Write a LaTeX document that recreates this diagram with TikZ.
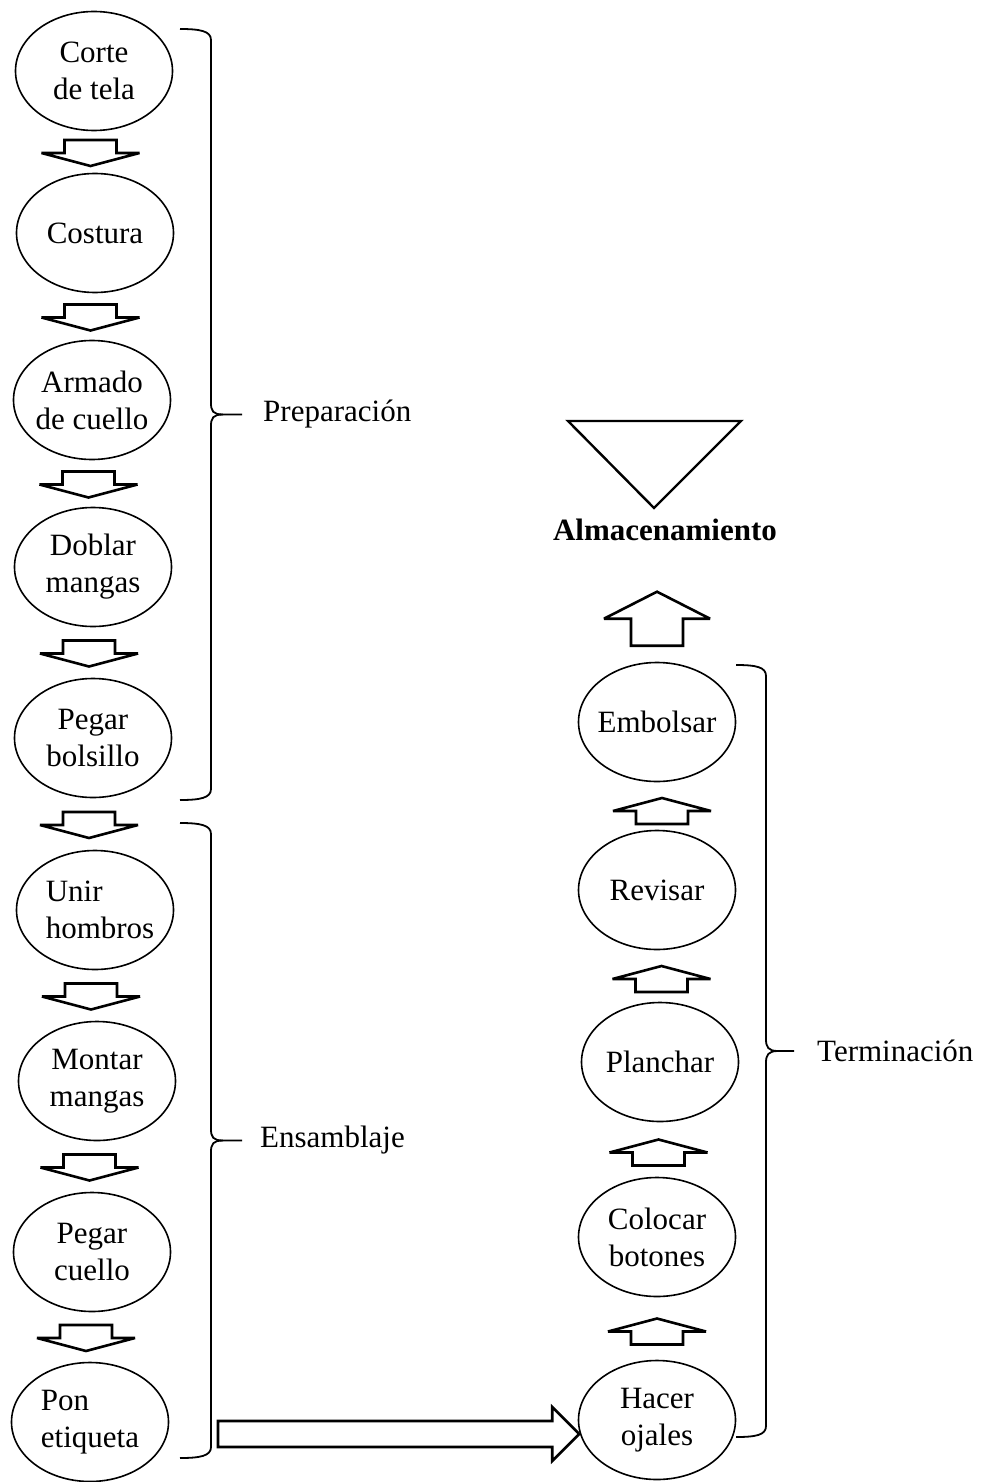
\documentclass[tikz,border=0pt]{standalone}
\usepackage{fontspec}
\setmainfont{Liberation Serif}
\usetikzlibrary{shapes.geometric,calc}
\tikzset{
 proc/.style={ellipse, draw, line width=1.6pt, minimum width=157pt, minimum height=119pt, inner sep=-30pt, align=center, font=\fontsize{31}{37}\selectfont},
 lbl/.style={anchor=west, inner sep=0pt, font=\fontsize{31}{37}\selectfont},
 blk/.style={draw, line width=2.6pt, fill=white, line join=miter, miter limit=3},
 brc/.style={draw, line width=1.8pt},
 downarr/.pic={\path[blk] (-26,-13) -- (26,-13) -- (26,0) -- (49,0) -- (0,13) -- (-49,0) -- (-26,0) -- cycle;},
 uparr/.pic={\path[blk] (-26,13) -- (26,13) -- (26,0) -- (49,0) -- (0,-13) -- (-49,0) -- (-26,0) -- cycle;},
 bigup/.pic={\path[blk] (-26,27) -- (26,27) -- (26,0) -- (53,0) -- (0,-27) -- (-53,0) -- (-26,0) -- cycle;},
}
\begin{document}
\begin{tikzpicture}[x=1pt,y=-1pt]
\useasboundingbox (0,0) rectangle (990,1482);
% left column
\node[proc] (c1) at (94,71) {Corte\\de tela};
\node[proc] (c2) at (95,233) {Costura};
\node[proc] (c3) at (92,400) {Armado\\de cuello};
\node[proc] (c4) at (93,567) {Doblar\\mangas};
\node[proc] (c5) at (93,738) {Pegar\\bolsillo};
\node[proc,align=left] (c6) at (95,910) {\hspace*{10pt}Unir\\\hspace*{10pt}hombros};
\node[proc] (c7) at (97,1081) {Montar\\mangas};
\node[proc] (c8) at (92,1252) {Pegar\\cuello};
\node[proc,align=left] (c9) at (90,1422) {Pon\\etiqueta};
% right column
\node[proc] (r1) at (657,722) {Embolsar};
\node[proc] (r2) at (657,890) {Revisar};
\node[proc] (r3) at (660,1062) {Planchar};
\node[proc] (r4) at (657,1237) {Colocar\\botones};
\node[proc] (r5) at (657,1420) {Hacer\\ojales};
% storage
\node[font=\fontsize{31}{37}\selectfont\bfseries, inner sep=0pt] (alm) at (665,530) {Almacenamiento};
\draw[line width=2.4pt, line join=miter] (568,421) -- (741,421) -- (654,508) -- cycle;
% down arrows
\pic at ($(c1.south)!0.5!(c2.north)+(-4,1)$) {downarr};
\pic at ($(c2.south)!0.5!(c3.north)+(-3,1)$) {downarr};
\pic at ($(c3.south)!0.5!(c4.north)+(-4,1)$) {downarr};
\pic at ($(c4.south)!0.5!(c5.north)+(-4,1)$) {downarr};
\pic at ($(c5.south)!0.5!(c6.north)+(-5,1)$) {downarr};
\pic at ($(c6.south)!0.5!(c7.north)+(-5,1)$) {downarr};
\pic at ($(c7.south)!0.5!(c8.north)+(-5,1)$) {downarr};
\pic at ($(c8.south)!0.5!(c9.north)+(-5,1)$) {downarr};
% up arrows
\pic at ($(r1.south)!0.5!(r2.north)+(5,5)$) {uparr};
\pic at ($(r2.south)!0.5!(r3.north)+(3,3)$) {uparr};
\pic at ($(r3.south)!0.5!(r4.north)+(0,3)$) {uparr};
\pic at ($(r4.south)!0.5!(r5.north)+(0,3)$) {uparr};
\pic at ($(r1.north)+(0,-43)$) {bigup};
% long arrow
\coordinate (rtip) at ($(r5.west)+(1.5,14)$);
\coordinate (rtail) at (218,1434);
\path[blk] ($(rtail)+(0,-13)$) -- ($(rtip)+(-27,-13)$) -- ($(rtip)+(-27,-27)$) -- (rtip) -- ($(rtip)+(-27,27)$) -- ($(rtip)+(-27,13)$) -- ($(rtail)+(0,13)$) -- cycle;
% braces
\draw[brc] (180,29) .. controls (200,29) and (211,31) .. (211,40) -- (211,403) .. controls (211,411) and (213,414.5) .. (223,414.5) -- (242,414.5);
\draw[brc] (223,414.5) .. controls (213,414.5) and (211,418) .. (211,426) -- (211,789) .. controls (211,798) and (200,800) .. (180,800);
\draw[brc] (180,823) .. controls (200,823) and (211,825) .. (211,834) -- (211,1129) .. controls (211,1137) and (213,1140.5) .. (223,1140.5) -- (242,1140.5);
\draw[brc] (223,1140.5) .. controls (213,1140.5) and (211,1144) .. (211,1152) -- (211,1447) .. controls (211,1456) and (200,1458) .. (180,1458);
\draw[brc] (736,665) .. controls (756,665) and (766,667) .. (766,676) -- (766,1039) .. controls (766,1047) and (768,1051) .. (778,1051) -- (794,1051);
\draw[brc] (778,1051) .. controls (768,1051) and (766,1055) .. (766,1063) -- (766,1426) .. controls (766,1435) and (756,1437) .. (736,1437);
\node[lbl] (prep) at (263,414) {Preparación};
\node[lbl] (ens) at (260,1140) {Ensamblaje};
\node[lbl] (term) at (817,1051) {Terminación};
\end{tikzpicture}
\end{document}
